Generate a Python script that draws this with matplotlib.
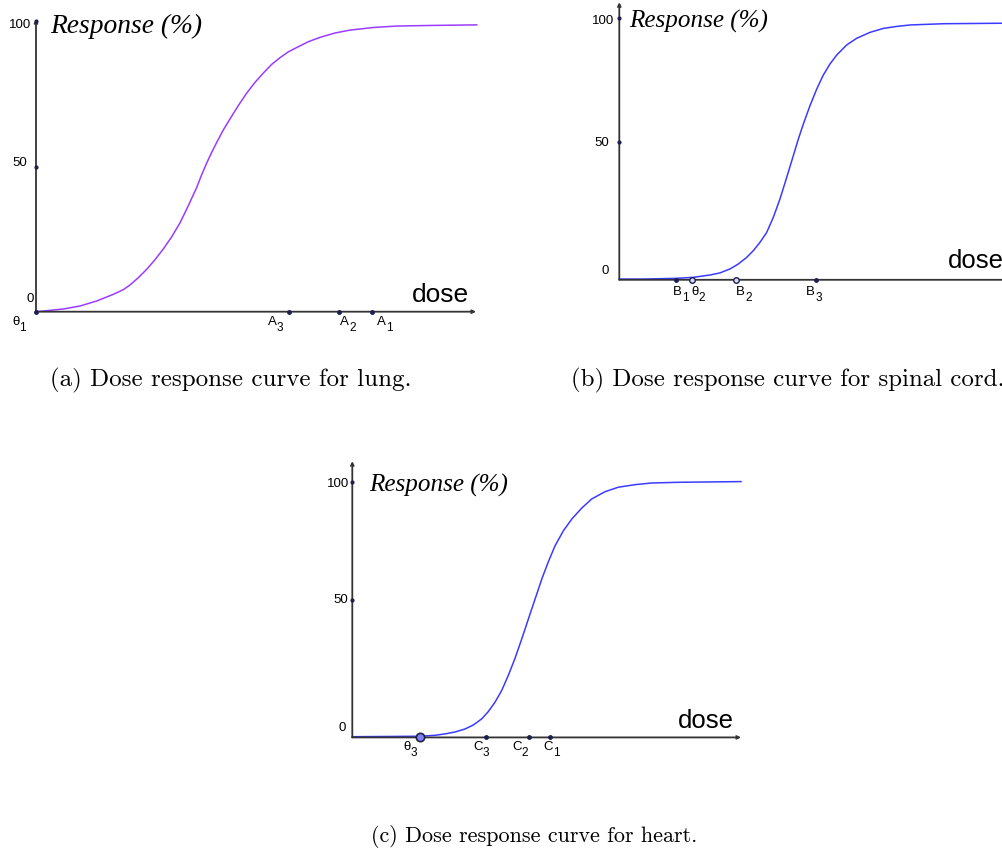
import matplotlib.pyplot as plt

plt.rcParams['font.family'] = ['Liberation Sans', 'DejaVu Sans']

# (a) lung: dose vs response (%)
lung_dose = [0, 1.07, 2.73, 4.4, 6.07, 7.73, 8.73, 9.4, 10.23, 11.07, 11.9, 12.73,
             13.57, 14.4, 15.23, 16.07, 16.57, 17.07, 17.57, 18.07, 18.73, 19.4,
             20.23, 21.07, 21.9, 22.73, 23.57, 24.4, 25.23, 26.07, 27.23, 28.4,
             29.9, 31.4, 33.73, 36.07, 39.4, 44.07]
lung_resp = [0, 0.35, 0.93, 1.96, 3.69, 5.98, 7.59, 9.2, 11.7, 14.6, 17.9, 21.6,
             25.8, 30.6, 36.5, 42.8, 47.2, 51.2, 54.9, 58.3, 62.6, 66.4,
             71.0, 75.3, 79.0, 82.2, 85.2, 87.5, 89.5, 91.0, 93.0, 94.5,
             96.0, 97.0, 97.9, 98.4, 98.6, 98.8]
lung_marks = ['θ', 'A', 'A', 'A']
lung_subs = ['1', '3', '2', '1']
lung_mark_dose = [0, 25.3, 30.3, 33.6]

# (b) spinal cord
cord_dose = [0, 2.4, 5.74, 7.4, 9.07, 10.07, 11.07, 11.9, 12.74, 13.4, 14.07, 14.74,
             15.4, 16.07, 16.74, 17.4, 17.9, 18.4, 19.07, 19.74, 20.4, 21.07, 21.74,
             22.74, 23.74, 25.07, 26.4, 27.74, 29.07, 32.4, 38.4]
cord_resp = [-5.7, -5.7, -5.4, -5.0, -4.05, -3.2, -1.6, 0.4, 3.1, 5.8, 9.2, 13.2,
             19.3, 26.8, 35.5, 44.3, 51.0, 57.1, 64.6, 71.3, 77.0, 81.5, 85.1,
             89.2, 91.9, 94.3, 95.9, 96.7, 97.3, 97.8, 98.0]
cord_marks = ['B', 'θ', 'B', 'B']
cord_subs = ['1', '2', '2', '3']
cord_mark_dose = [5.7, 7.3, 11.7, 19.7]

# (c) heart
heart_dose = [0, 6.77, 8.27, 9.27, 10.27, 11.27, 12.1, 12.94, 13.6, 14.27, 14.94,
              15.6, 16.27, 16.94, 17.44, 17.94, 18.44, 18.94, 19.6, 20.27, 21.1,
              21.94, 22.94, 23.94, 25.27, 26.6, 28.27, 29.94, 32.6, 38.87]
heart_resp = [-8.4, -8.2, -7.8, -7.2, -6.4, -5.1, -3.4, -0.8, 2.3, 6.3, 11.3,
              17.7, 25.0, 33.2, 39.6, 46.0, 52.3, 58.7, 66.1, 72.9, 79.3,
              84.3, 89.0, 92.9, 96.0, 97.9, 99.0, 99.7, 100.0, 100.3]
heart_marks = ['θ', 'C', 'C', 'C']
heart_subs = ['3', '3', '2', '1']
heart_mark_dose = [6.8, 13.4, 17.7, 19.8]

W, H = 1003, 853
fig = plt.figure(figsize=(W / 100, H / 100), dpi=100)
axis_col = '#333333'
dot_col = '#1f1f4f'
letter_w = {'θ': 7.5, 'A': 9, 'B': 9, 'C': 9.5}


def panel(x0, y0, x_end, ppy, base, y_top):
    # x0, y0: pixel spot of dose 0 / response 0 ; 10 px per dose unit
    ax = fig.add_axes([x0 / W, (H - y0) / H, x_end * 10 / W, 100 * ppy / H])
    ax.set_xlim(0, x_end)
    ax.set_ylim(0, 100)
    ax.axis('off')
    arrow = dict(arrowstyle='->', lw=1.3, color=axis_col, shrinkA=0, shrinkB=0,
                 mutation_scale=5)
    ax.annotate('', xy=(x_end, base), xytext=(0, base), arrowprops=arrow,
                annotation_clip=False)
    ax.annotate('', xy=(0, y_top), xytext=(0, base), arrowprops=arrow,
                annotation_clip=False)
    ax.plot([0, 0], [50, 100], 'o', ms=2, color=dot_col, clip_on=False, zorder=5)
    return ax


def lab(ax, s, xy, dx, dy, size=9.5, **kw):
    ax.annotate(s, xy=xy, xytext=(dx, dy), textcoords='offset pixels',
                fontsize=size, annotation_clip=False, **kw)


def mark_labels(ax, marks, subs, doses, base, dxs, dy):
    for m, s, d, dx in zip(marks, subs, doses, dxs):
        lab(ax, m, (d, base), dx, dy, ha='left', va='top')
        lab(ax, s, (d, base), dx + letter_w[m], dy - 6, size=8.5, ha='left', va='top')


# ---------- (a) lung ----------
ax = panel(36, 312.7, 44.0, 2.903, 0, 100.8)
ax.plot(lung_dose, lung_resp, color='#9a3cff', lw=1.1, clip_on=False)
ax.plot(lung_mark_dose, [0] * 4, 'o', ms=2.5, color=dot_col, clip_on=False, zorder=5)
mark_labels(ax, lung_marks, lung_subs, lung_mark_dose, 0, [-24, -21, 1, 5], -3)
lab(ax, '100', (0, 100), -27, -2.3, ha='left', va='center')
lab(ax, '50', (0, 50), -23.3, 4.3, ha='left', va='center')
lab(ax, '0', (0, 0), -9.3, 13.7, ha='left', va='center')
lab(ax, 'Response (%)', (0, 100), 14, -10.6, size=19.8, family='Liberation Serif',
    style='italic', ha='left', va='baseline')
lab(ax, 'dose', (0, 0), 376, 10.7, size=19, ha='left', va='baseline')

# ---------- (b) spinal cord ----------
ax = panel(619.3, 266, 39.0, 2.467, -6, 106.5)
ax.plot(cord_dose, cord_resp, color='#3b3bff', lw=1.1, clip_on=False)
ax.plot([cord_mark_dose[0], cord_mark_dose[3]], [-6, -6], 'o', ms=2.5, color=dot_col,
        clip_on=False, zorder=5)
ax.plot([cord_mark_dose[1], cord_mark_dose[2]], [-6, -6], 'o', ms=4, mfc='#d8d8ff',
        mec=dot_col, mew=1, clip_on=False, zorder=5)
mark_labels(ax, cord_marks, cord_subs, cord_mark_dose, -6, [-3, -1, 0, -10], -5)
lab(ax, '100', (0, 100), -27.6, -1.4, ha='left', va='center')
lab(ax, '50', (0, 50), -25, 0, ha='left', va='center')
lab(ax, '0', (0, -6), -17.6, 9.7, ha='left', va='center')
lab(ax, 'Response (%)', (0, 100), 10, -8, size=18.1, family='Liberation Serif',
    style='italic', ha='left', va='baseline')
lab(ax, 'dose', (0, -6), 329, 12.4, size=18.5, ha='left', va='baseline')

# ---------- (c) heart ----------
ax = panel(352.3, 718, 38.87, 2.347, -8.7, 109)
ax.plot(heart_dose, heart_resp, color='#3b3bff', lw=1.1, clip_on=False)
ax.plot(heart_mark_dose[1:], [-8.7] * 3, 'o', ms=2.5, color=dot_col, clip_on=False,
        zorder=5)
ax.plot(heart_mark_dose[0], -8.7, 'o', ms=6, mfc='#8080ff', mec='#202040', mew=1.2,
        clip_on=False, zorder=6)
mark_labels(ax, heart_marks, heart_subs, heart_mark_dose, -8.7, [-17, -13, -17, -7], -3)
lab(ax, '100', (0, 100), -25.6, -0.7, ha='left', va='center')
lab(ax, '50', (0, 50), -19, 0.7, ha='left', va='center')
lab(ax, '0', (0, -8.7), -14, 10.8, ha='left', va='center')
lab(ax, 'Response (%)', (0, 100), 17, -8.4, size=18.1, family='Liberation Serif',
    style='italic', ha='left', va='baseline')
lab(ax, 'dose', (0, -8.7), 326, 10.6, size=18.5, ha='left', va='baseline')

# captions
cap = dict(family='cmr10', ha='center', va='center')
fig.text(231 / W, 1 - 380 / H, '(a) Dose response curve for lung.', fontsize=18, **cap)
fig.text(788 / W, 1 - 380 / H, '(b) Dose response curve for spinal cord.',
         fontsize=17.9, **cap)
fig.text(534 / W, 1 - 837 / H, '(c) Dose response curve for heart.', fontsize=15.9,
         **cap)

fig.savefig('out.png', dpi=100)
